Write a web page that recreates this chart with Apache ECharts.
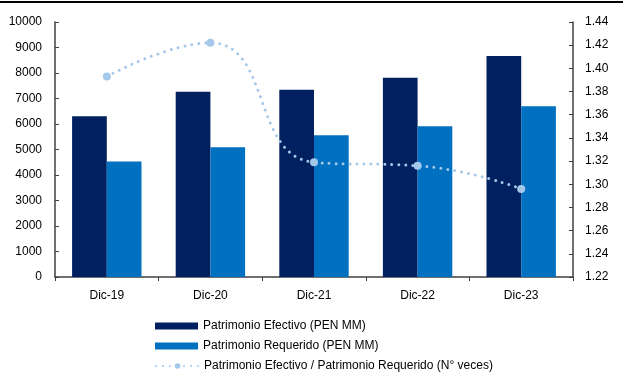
<!DOCTYPE html>
<html>
<head>
<meta charset="utf-8">
<script src="https://cdn.jsdelivr.net/npm/echarts@6/dist/echarts.min.js"></script>
<style>
  html, body { margin: 0; padding: 0; background: #fff; }
  #chart { width: 623px; height: 373px; }
</style>
</head>
<body>
<div id="chart"></div>
<script>
const categories = ['Dic-19', 'Dic-20', 'Dic-21', 'Dic-22', 'Dic-23']
const efectivo = [6300, 7260, 7340, 7810, 8670]
const requerido = [4530, 5090, 5560, 5910, 6700]
const ratio = [1.393, 1.422, 1.319, 1.316, 1.296]
const leftTicks = [0, 10000, 1000]
const rightTicks = [1.22, 1.44, 0.02]
const seriesNames = [
    'Patrimonio Efectivo (PEN MM)',
    'Patrimonio Requerido (PEN MM)',
    'Patrimonio Efectivo / Patrimonio Requerido (N° veces)'
]

const axisColor = '#404040'
const font = 'Liberation Sans, Arial, sans-serif'

const myChart = echarts.init(document.getElementById('chart'))

// one legend per row so they stack like the original
const legendRow = (name, top, icon) => ({
    orient: 'horizontal',
    left: 155,
    top: top,
    padding: 0,
    itemWidth: 43,
    itemHeight: 7,
    textStyle: { fontSize: 12, color: '#000', fontFamily: font },
    data: [icon ? { name: name, icon: icon } : { name: name }]
})

const option = {
    animation: false,
    backgroundColor: '#fff',
    textStyle: { fontFamily: font },
    graphic: [
        {
            type: 'rect',
            shape: { x: 0, y: 1, width: 623, height: 2 },
            style: { fill: '#000' }
        }
    ],
    grid: { left: 55, right: 50, top: 22, bottom: 96 },
    legend: [
        legendRow(seriesNames[0], 320, 'rect'),
        legendRow(seriesNames[1], 340, 'rect'),
        legendRow(seriesNames[2], 360)
    ],
    xAxis: {
        type: 'category',
        data: categories,
        axisLine: { lineStyle: { color: axisColor, width: 1.5 } },
        axisTick: { show: true, length: 4, lineStyle: { color: axisColor } },
        axisLabel: { color: '#000', fontSize: 12, margin: 13, fontFamily: font }
    },
    yAxis: [
        {
            type: 'value',
            min: leftTicks[0],
            max: leftTicks[1],
            interval: leftTicks[2],
            axisLine: { show: true, lineStyle: { color: axisColor, width: 1.5 } },
            axisTick: { show: true, inside: true, length: 4, lineStyle: { color: axisColor } },
            splitLine: { show: false },
            axisLabel: {
                color: '#000', fontSize: 12, margin: 13, fontFamily: font,
                formatter: v => String(v)
            }
        },
        {
            type: 'value',
            min: rightTicks[0],
            max: rightTicks[1],
            interval: rightTicks[2],
            position: 'right',
            axisLine: { show: true, lineStyle: { color: axisColor, width: 1.5 } },
            axisTick: { show: true, inside: true, length: 4, lineStyle: { color: axisColor } },
            splitLine: { show: false },
            axisLabel: {
                color: '#000', fontSize: 12, margin: 12, fontFamily: font,
                formatter: v => v.toFixed(2)
            }
        }
    ],
    series: [
        {
            name: seriesNames[0],
            type: 'bar',
            data: efectivo,
            barGap: '0%',
            barCategoryGap: '33%',
            itemStyle: { color: '#002060' }
        },
        {
            name: seriesNames[1],
            type: 'bar',
            data: requerido,
            itemStyle: { color: '#0070c0' }
        },
        {
            name: seriesNames[2],
            type: 'line',
            yAxisIndex: 1,
            data: ratio,
            smooth: 0.5,
            symbol: 'circle',
            symbolSize: 8,
            itemStyle: { color: '#a4c8ea' },
            lineStyle: { color: '#a4c8ea', width: 3, type: [0, 7], cap: 'round' },
            z: 5
        }
    ]
}

option && myChart.setOption(option)
</script>
</body>
</html>
